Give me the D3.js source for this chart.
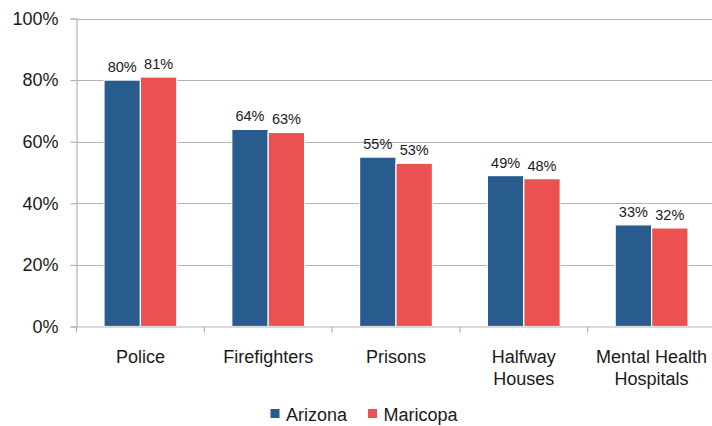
<!DOCTYPE html>
<html><head><meta charset="utf-8">
<script src="https://cdn.jsdelivr.net/npm/d3@7"></script>
<style>body{margin:0;background:#fff}svg{display:block;font-family:"Liberation Sans",Arial,sans-serif}</style>
</head><body>
<svg id="c" width="712" height="426"></svg>
<script>
const categories = [["Police"],["Firefighters"],["Prisons"],["Halfway","Houses"],["Mental Health","Hospitals"]];
const seriesNames = ["Arizona","Maricopa"];
const arizona = [80,64,55,49,33];
const maricopa = [81,63,53,48,32];
const yTicks = [0,20,40,60,80,100];
const colors = ["#285c8e","#eb5151"];

const svg = d3.select("#c");
const L = 76.5, R = 715.5, T = 18.5, B = 326.5;
const keys = categories.map(c => c.join(" "));
const x = d3.scaleBand().domain(keys).range([L,R]).paddingInner(0.43).paddingOuter(0.215);
const x0 = d3.scaleBand().domain(keys).range([L,R]).padding(0);
const xs = d3.scaleBand().domain(seriesNames).range([0,x.bandwidth()]).padding(0);
const y = d3.scaleLinear().domain([0,100]).range([B,T]);
const grid = "#b3b3b3";

// gridlines
svg.append("g").selectAll("line").data(yTicks.filter(d=>d>0)).join("line")
  .attr("x1",L).attr("x2",R).attr("y1",d=>Math.round(y(d))+0.5).attr("y2",d=>Math.round(y(d))+0.5)
  .attr("stroke",grid).attr("stroke-width",1.2);

// y axis
const ya = svg.append("g").attr("transform",`translate(${L},0)`)
  .call(d3.axisLeft(y).tickValues(yTicks).tickFormat(d=>d+"%").tickSize(6).tickPadding(12));
ya.select(".domain").attr("stroke",grid).attr("stroke-width",1.2);
ya.selectAll(".tick line").attr("stroke",grid).attr("stroke-width",1.2);
ya.selectAll("text").attr("font-size",18).attr("fill","#1a1a1a").attr("font-family","Liberation Sans, Arial, sans-serif");

// bars
const data = keys.map((k,i)=>({k, vals:[arizona[i],maricopa[i]]}));
const g = svg.append("g").selectAll("g").data(data).join("g")
  .attr("transform",d=>`translate(${x(d.k)},0)`);
g.selectAll("rect").data(d=>d.vals.map((v,j)=>({v,s:seriesNames[j],j}))).join("rect")
  .attr("x",d=>xs(d.s)).attr("width",xs.bandwidth())
  .attr("y",d=>y(d.v)).attr("height",d=>B-y(d.v))
  .attr("fill",d=>colors[d.j]).attr("stroke","#fff").attr("stroke-width",1.2);
g.selectAll("text").data(d=>d.vals.map((v,j)=>({v,s:seriesNames[j],j}))).join("text")
  .attr("x",d=>xs(d.s)+xs.bandwidth()/2).attr("y",d=>y(d.v)-8)
  .attr("text-anchor","middle").attr("font-size",14.5).attr("fill","#1a1a1a")
  .text(d=>d.v+"%");

// x axis
const xa = svg.append("g").attr("transform",`translate(0,${B})`)
  .call(d3.axisBottom(x0).tickSize(0).tickFormat(""));
xa.select(".domain").attr("stroke",grid).attr("stroke-width",1.2);
xa.selectAll(".tick").remove();
svg.append("g").selectAll("line").data(d3.range(keys.length+1)).join("line")
  .attr("x1",i=>L+i*x0.step()).attr("x2",i=>L+i*x0.step())
  .attr("y1",B).attr("y2",B+6).attr("stroke",grid).attr("stroke-width",1.2);

// category labels
svg.append("g").selectAll("text").data(categories).join("text")
  .attr("x",(d,i)=>x0(keys[i])+x0.bandwidth()/2).attr("y",363)
  .attr("text-anchor","middle").attr("font-size",18).attr("fill","#1a1a1a")
  .selectAll("tspan").data(d=>d).join("tspan")
  .attr("x",function(){return this.parentNode.getAttribute("x");})
  .attr("dy",(d,i)=>i?22:0).text(d=>d);

// legend
const lg = svg.append("g");
const lx = [270.5, 368];
seriesNames.forEach((s,i)=>{
  lg.append("rect").attr("x",lx[i]).attr("y",409).attr("width",9).attr("height",9).attr("fill",colors[i]);
  lg.append("text").attr("x",lx[i]+15.5).attr("y",421).attr("font-size",18).attr("fill","#1a1a1a").text(s);
});
</script>
</body></html>
